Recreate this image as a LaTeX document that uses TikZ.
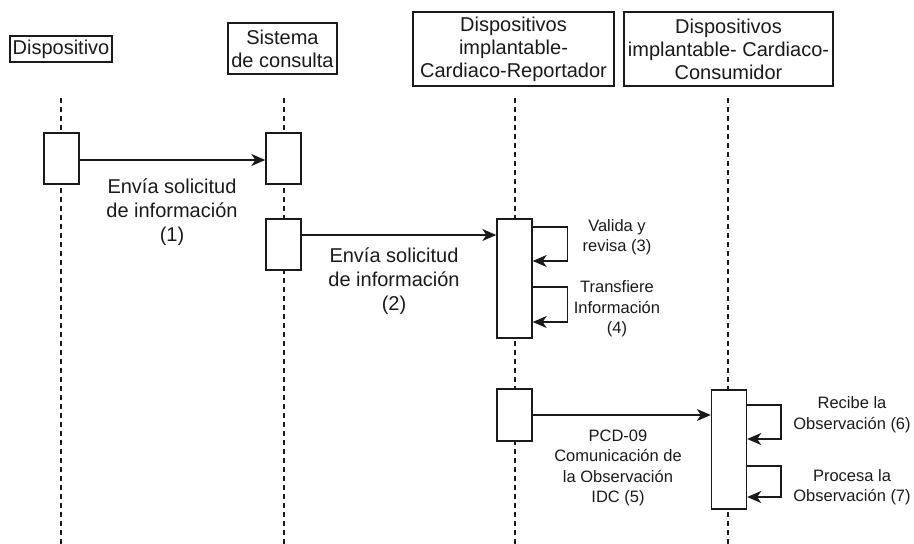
\documentclass[tikz,border=0pt]{standalone}
\usepackage{fontspec}
\setmainfont{Liberation Sans}
\usetikzlibrary{arrows.meta}
\definecolor{ink}{HTML}{1A1A1A}
\tikzset{
  head/.style={draw=ink, line width=1.4pt, fill=white, inner sep=0pt, align=center, text=ink,
    font=\fontsize{20}{23}\selectfont},
  actbox/.style={draw=ink, line width=1.4pt, fill=white, inner sep=0pt, minimum width=35pt},
  lifeline/.style={draw=ink, line width=1.5pt, dash pattern=on 4.5pt off 4.5pt},
  msg/.style={draw=ink, line width=1.5pt, -{Stealth[length=14pt, width=12pt, inset=4pt]}},
  biglbl/.style={inner sep=0pt, align=center, text=ink, font=\fontsize{20}{24}\selectfont},
  smalllbl/.style={inner sep=0pt, align=center, text=ink, font=\fontsize{16.5}{20.5}\selectfont},
}
\begin{document}
\begin{tikzpicture}[x=1pt, y=-1pt]
\useasboundingbox (0,0) rectangle (914,544);

% participants
\node[head, minimum width=102pt, minimum height=26pt] (h1) at (61,49) {Dispositivo};
\node[head, minimum width=109pt, minimum height=51pt] (h2) at (282.5,48.5) {Sistema\\de consulta};
\node[head, minimum width=201pt, minimum height=74pt] (h3) at (513.5,49) {Dispositivos\\implantable-\\Cardiaco-Reportador};
\node[head, minimum width=209pt, minimum height=74pt] (h4) at (728.5,49) {Dispositivos\\implantable- Cardiaco-\\Consumidor};

% lifelines
\coordinate (t1) at (61,98);  \coordinate (b1) at (61,544);
\coordinate (t2) at (284,98); \coordinate (b2) at (284,544);
\coordinate (t3) at (515,98); \coordinate (b3) at (515,544);
\coordinate (t4) at (728,98); \coordinate (b4) at (728,544);
\draw[lifeline] (t1) -- (b1);
\draw[lifeline] (t2) -- (b2);
\draw[lifeline] (t3) -- (b3);
\draw[lifeline] (t4) -- (b4);

% activation bars
\node[actbox, minimum height=51pt] (a1) at (61.5,158.5) {};
\node[actbox, minimum height=51pt] (a2) at (283.5,158.5) {};
\node[actbox, minimum height=51pt] (a3) at (283.5,244.5) {};
\node[actbox, minimum height=119pt] (a4) at (514.5,278.5) {};
\node[actbox, minimum height=52pt] (a5) at (514.5,415) {};
\node[actbox, minimum height=119pt] (a6) at (729,449.5) {};

% messages
\draw[msg] (a1.east |- 0,160) -- (a2.west |- 0,160);
\draw[msg] (a3.east |- 0,235) -- (a4.west |- 0,235);
\draw[msg] (a5.east) -- (a5.east -| a6.west);

% self calls
\draw[msg] (a4.east |- 0,227) -- ++(35,0) |- (a4.east |- 0,261);
\draw[msg] (a4.east |- 0,287) -- ++(35,0) |- (a4.east |- 0,322);
\draw[msg] (a6.east |- 0,405) -- ++(34,0) |- (a6.east |- 0,439);
\draw[msg] (a6.east |- 0,466) -- ++(34,0) |- (a6.east |- 0,497);

% labels
\node[biglbl] (l1) at (172,212) {Envía solicitud\\de información\\(1)};
\node[biglbl] (l2) at (394,281) {Envía solicitud\\de información\\(2)};
\node[smalllbl] (l3) at (617,237) {Valida y\\revisa (3)};
\node[smalllbl] (l4) at (617,309) {Transfiere\\Información\\(4)};
\node[smalllbl] (l5) at (618,468) {PCD-09\\Comunicación de\\la Observación\\IDC (5)};
\node[smalllbl] (l6) at (852,414.5) {Recibe la\\Observación (6)};
\node[smalllbl] (l7) at (852,487) {Procesa la\\Observación (7)};
\end{tikzpicture}
\end{document}
